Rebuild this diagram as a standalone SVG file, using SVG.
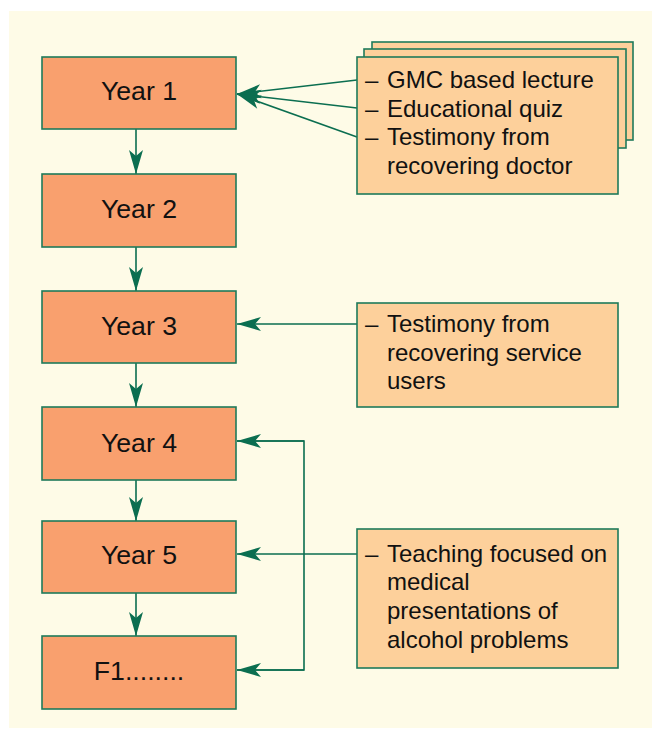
<svg xmlns="http://www.w3.org/2000/svg" width="652" height="729" viewBox="0 0 652 729">
<style>
.bg{fill:#FEFBE7}
.yr{fill:#F9A06E;stroke:#1E7A5A;stroke-width:1.6}
.nt{fill:#FDD09B;stroke:#1E7A5A;stroke-width:1.6}
.yt{font-family:"Liberation Sans",Arial,sans-serif;font-size:26.7px;fill:#111;text-anchor:middle}
.nx{font-family:"Liberation Sans",Arial,sans-serif;font-size:24px;fill:#111}
.cn{fill:none;stroke:#0B6E50;stroke-width:1.6}
</style>
<defs>
<marker id="ah" viewBox="-25 -8 26 16" refX="0" refY="0" markerWidth="26" markerHeight="16" markerUnits="userSpaceOnUse" orient="auto">
<path d="M0,0 L-24,-7 L-18,0 L-24,7 Z" fill="#0B6E50"/>
</marker>
</defs>
<rect class="bg" x="9" y="11" width="643" height="717"/>
<g id="connectors">
<line class="cn" x1="136" y1="129" x2="136" y2="174" marker-end="url(#ah)"/>
<line class="cn" x1="136" y1="247" x2="136" y2="291" marker-end="url(#ah)"/>
<line class="cn" x1="136" y1="363" x2="136" y2="407" marker-end="url(#ah)"/>
<line class="cn" x1="136" y1="480" x2="136" y2="521" marker-end="url(#ah)"/>
<line class="cn" x1="136" y1="593" x2="136" y2="636" marker-end="url(#ah)"/>
<line class="cn" x1="357" y1="80" x2="237" y2="94" marker-end="url(#ah)"/>
<line class="cn" x1="357" y1="108" x2="237" y2="94" marker-end="url(#ah)"/>
<line class="cn" x1="357" y1="137" x2="237" y2="94" marker-end="url(#ah)"/>
<line class="cn" x1="357" y1="324" x2="237" y2="324" marker-end="url(#ah)"/>
<line class="cn" x1="357" y1="554" x2="237" y2="554" marker-end="url(#ah)"/>
<polyline class="cn" points="237,441 304,441 304,670 237,670"/>
<line class="cn" x1="304" y1="441" x2="237" y2="441" marker-end="url(#ah)"/>
<line class="cn" x1="304" y1="670" x2="237" y2="670" marker-end="url(#ah)"/>
</g>
<g id="year1"><rect class="yr" x="42" y="57" width="194" height="72"/><text class="yt" x="139" y="100">Year 1</text></g>
<g id="year2"><rect class="yr" x="42" y="174" width="194" height="73"/><text class="yt" x="139" y="218">Year 2</text></g>
<g id="year3"><rect class="yr" x="42" y="291" width="194" height="72"/><text class="yt" x="139" y="335">Year 3</text></g>
<g id="year4"><rect class="yr" x="42" y="407" width="194" height="73"/><text class="yt" x="139" y="452">Year 4</text></g>
<g id="year5"><rect class="yr" x="42" y="521" width="194" height="72"/><text class="yt" x="139" y="564">Year 5</text></g>
<g id="f1"><rect class="yr" x="42" y="636" width="194" height="73"/><text class="yt" x="139" y="680">F1........</text></g>
<g id="note1">
<rect class="nt" x="372" y="42" width="261" height="98"/>
<rect class="nt" x="364" y="49" width="262" height="99"/>
<rect class="nt" x="357" y="57" width="261" height="137"/>
<text class="nx"><tspan x="365" y="88">–</tspan><tspan x="387" y="88">GMC based lecture</tspan><tspan x="365" y="117">–</tspan><tspan x="387" y="117">Educational quiz</tspan><tspan x="365" y="145">–</tspan><tspan x="387" y="145">Testimony from</tspan><tspan x="387" y="174">recovering doctor</tspan></text>
</g>
<g id="note2">
<rect class="nt" x="357" y="303" width="261" height="104"/>
<text class="nx"><tspan x="365" y="332">–</tspan><tspan x="387" y="332">Testimony from</tspan><tspan x="387" y="361">recovering service</tspan><tspan x="387" y="389">users</tspan></text>
</g>
<g id="note3">
<rect class="nt" x="357" y="529" width="261" height="139"/>
<text class="nx"><tspan x="365" y="562">–</tspan><tspan x="387" y="562">Teaching focused on</tspan><tspan x="387" y="590">medical</tspan><tspan x="387" y="619">presentations of</tspan><tspan x="387" y="648">alcohol problems</tspan></text>
</g>
</svg>
